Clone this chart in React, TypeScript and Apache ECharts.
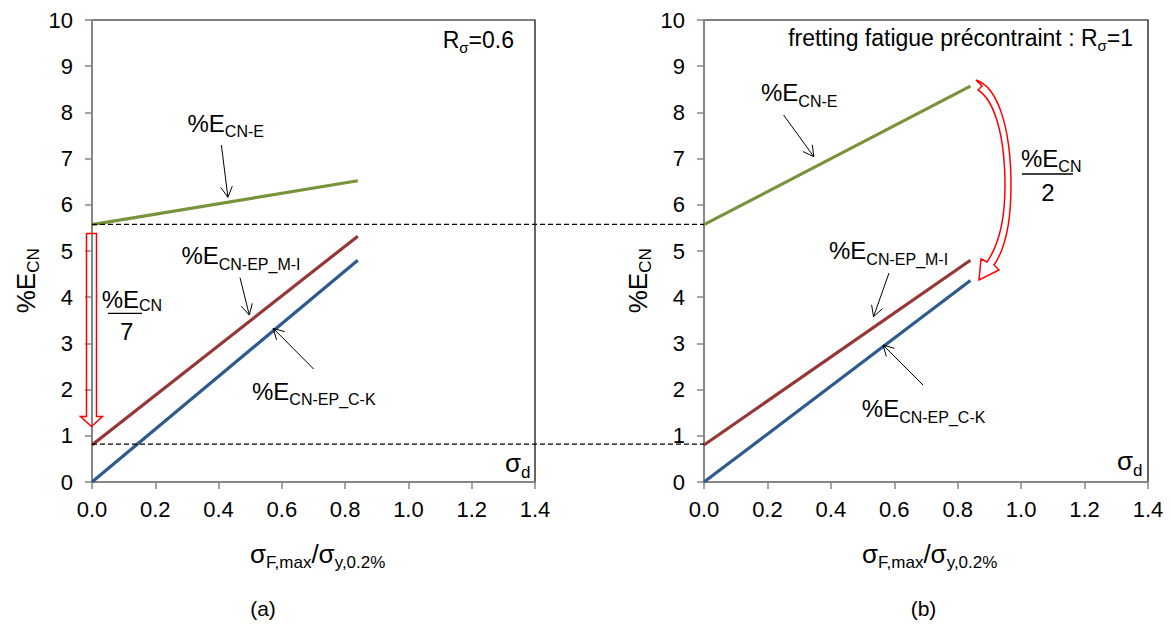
import React, { useEffect, useRef } from "react";
import * as echarts from "echarts";

const FONT = "'Liberation Sans', Arial, Helvetica, sans-serif";

// abscissa of line end points (sigma_F,max / sigma_y,0.2%)
const xEnds = [0, 0.84];
// panel (a) R_sigma = 0.6
const aE = [5.57, 6.52];
const aMI = [0.8, 5.32];
const aCK = [0, 4.8];
// panel (b) fretting fatigue précontraint R_sigma = 1
const bE = [5.57, 8.57];
const bMI = [0.8, 4.8];
const bCK = [0, 4.36];
// dashed reference levels crossing both panels
const refLevels = [5.575, 0.82];
// vertical red hollow arrow on panel (a): from / to (y values)
const dropArrow = [5.38, 1.2];

const GREEN = "#77933C";
const RED = "#953735";
const BLUE = "#2E5B8E";

echarts.graphic.registerShape(
  "curvedArrow",
  echarts.graphic.extendPath(
    "M 976 80 C 998 87 1011 128 1011 186 C 1011 228 1003 252 994 265 L 999 270 L 979 280 L 981 259 L 987 262 C 996 249 1005 226 1005 186 C 1005 134 994 100 978 90 L 982 86 Z",
    {}
  )
);

let measureCtx: CanvasRenderingContext2D | null = null;
function tw(t: string, s: number) {
  if (!measureCtx) measureCtx = document.createElement("canvas").getContext("2d");
  measureCtx!.font = `${s}px ${FONT}`;
  return measureCtx!.measureText(t).width;
}

type Part = [string, number, number];
function rich(x: number, baseline: number, parts: Part[], extra: any = {}) {
  const children: any[] = [];
  let cx = 0;
  for (const [t, s, dy] of parts) {
    children.push({
      type: "text",
      x: cx,
      y: dy - 0.3465 * s,
      style: { text: t, fontSize: s, fontFamily: FONT, fill: "#000", textAlign: "left", textVerticalAlign: "middle" },
    });
    cx += tw(t, s);
  }
  let gx = x;
  if (extra.alignRight) gx = x - cx;
  const { alignRight, ...rest } = extra;
  return { type: "group", x: gx, y: baseline, children, ...rest };
}

function arrow(x1: number, y1: number, x2: number, y2: number) {
  const ang = Math.atan2(y2 - y1, x2 - x1);
  const L = 12, a = 0.5;
  const p1 = [x2 - L * Math.cos(ang - a), y2 - L * Math.sin(ang - a)];
  const p2 = [x2 - L * Math.cos(ang + a), y2 - L * Math.sin(ang + a)];
  return [
    { type: "line", shape: { x1, y1, x2, y2 }, style: { stroke: "#000", lineWidth: 1 }, z: 10 },
    { type: "polyline", shape: { points: [p1, [x2, y2], p2] }, style: { stroke: "#000", lineWidth: 1, fill: null }, z: 10 },
  ];
}

function plainText(x: number, y: number, t: string, s: number, align = "center") {
  return {
    type: "text", x, y,
    style: { text: t, fontSize: s, fontFamily: FONT, fill: "#000", textAlign: align, textVerticalAlign: "middle" },
  };
}

export default function App() {
  const ref = useRef<HTMLDivElement>(null);
  useEffect(() => {
    if (!ref.current) return;
    const chart = echarts.init(ref.current, undefined, { renderer: "svg" });
    const axisCommon = {
      axisLine: { show: true, onZero: false, lineStyle: { color: "#868686", width: 2 } },
      axisTick: { show: true, length: 7, lineStyle: { color: "#868686", width: 1.5 } },
      splitLine: { show: false },
    };
    const xAx = (gi: number) => ({
      type: "value", gridIndex: gi, min: 0, max: 1.4, interval: 0.2, ...axisCommon,
      axisLabel: {
        margin: 16, fontSize: 22, fontFamily: FONT, color: "#000",
        formatter: (v: number) => v.toFixed(1), showMinLabel: true, showMaxLabel: true, hideOverlap: false,
      },
    });
    const yAx = (gi: number) => ({
      type: "value", gridIndex: gi, min: 0, max: 10, interval: 1, ...axisCommon,
      axisLabel: {
        margin: 19, fontSize: 22, fontFamily: FONT, color: "#000",
        showMinLabel: true, showMaxLabel: true, hideOverlap: false,
      },
    });
    const mk = (data: number[], color: string, gi: number) => ({
      type: "line", xAxisIndex: gi, yAxisIndex: gi,
      data: xEnds.map((x, i) => [x, data[i]]),
      showSymbol: false, symbol: "none", silent: true,
      lineStyle: { color, width: 3.2 }, z: 3,
    });
    chart.setOption({
      animation: false,
      backgroundColor: "#fff",
      grid: [
        { left: 92, top: 20, width: 443, height: 462, show: true, borderColor: "#000", borderWidth: 1.2 },
        { left: 704, top: 20, width: 444, height: 462, show: true, borderColor: "#000", borderWidth: 1.2 },
      ],
      xAxis: [xAx(0), xAx(1)],
      yAxis: [yAx(0), yAx(1)],
      series: [
        mk(aE, GREEN, 0), mk(aMI, RED, 0), mk(aCK, BLUE, 0),
        mk(bE, GREEN, 1), mk(bMI, RED, 1), mk(bCK, BLUE, 1),
      ],
    });

    const px = (gi: number, x: number, y: number) => chart.convertToPixel({ gridIndex: gi } as any, [x, y]) as number[];
    const g: any[] = [];
    // dashed reference lines
    for (const lv of refLevels) {
      const a = px(0, 0, lv), b = px(1, 0, lv);
      g.push({
        type: "line", shape: { x1: a[0], y1: a[1], x2: b[0], y2: b[1] },
        style: { stroke: "#000", lineWidth: 1.2, lineDash: [5, 3] }, z: 5,
      });
    }
    // red hollow drop arrow on panel (a)
    {
      const top = px(0, 0, dropArrow[0]);
      const tip = px(0, 0, dropArrow[1]);
      const cx = top[0] - 0.5;
      const hb = tip[1] - 10;
      g.push({
        type: "polygon",
        shape: {
          points: [
            [cx - 5, top[1]], [cx + 5, top[1]], [cx + 5, hb], [cx + 11, hb],
            [cx, tip[1]], [cx - 11, hb], [cx - 5, hb],
          ],
        },
        style: { stroke: "#FF0000", lineWidth: 1.5, fill: null }, z: 8,
      });
    }
    // red curved hollow arrow on panel (b)
    g.push({ type: "curvedArrow", x: 0, y: 0, style: { stroke: "#FF0000", lineWidth: 1.5, fill: null }, z: 8 });

    // annotations panel (a)
    g.push(rich(187.5, 131.7, [["%E", 24, 0], ["CN-E", 16, 5.6]]));
    g.push(...arrow(221.4, 145, 227.9, 197.3));
    g.push(rich(181.4, 264, [["%E", 24, 0], ["CN-EP_M-I", 16, 6]]));
    g.push(...arrow(240, 277.7, 249.3, 315));
    g.push(rich(252, 400, [["%E", 24, 0], ["CN-EP_C-K", 16, 5]]));
    g.push(...arrow(313.6, 369, 273.2, 328.3));
    g.push(rich(101.7, 308.3, [["%E", 24, 0], ["CN", 16, 3]]));
    g.push({ type: "line", shape: { x1: 108, y1: 313.3, x2: 142, y2: 313.3 }, style: { stroke: "#000", lineWidth: 1.3 } });
    g.push(plainText(126.7, 340 - 0.3465 * 24, "7", 24));
    g.push(rich(514, 47.7, [["R", 23, 0], ["σ", 15, 5], ["=0.6", 23, 0]], { alignRight: true }));
    g.push(rich(505, 471.7, [["σ", 26, 0], ["d", 17, 6.6]]));

    // annotations panel (b)
    g.push(rich(761, 100.7, [["%E", 24, 0], ["CN-E", 16, 6]]));
    g.push(...arrow(783.6, 115, 813.8, 156.7));
    g.push(rich(829, 259.3, [["%E", 24, 0], ["CN-EP_M-I", 16, 5.7]]));
    g.push(...arrow(889, 273, 873.5, 316.7));
    g.push(rich(861.8, 416.7, [["%E", 24, 0], ["CN-EP_C-K", 16, 6]]));
    g.push(...arrow(923, 385, 883, 345));
    g.push(rich(1021, 166.7, [["%E", 24, 0], ["CN", 16, 5]]));
    g.push({ type: "line", shape: { x1: 1022, y1: 174, x2: 1073, y2: 174 }, style: { stroke: "#000", lineWidth: 1.3 } });
    g.push(plainText(1048, 200.7 - 0.3465 * 24, "2", 24));
    g.push(rich(1133, 45.7, [["fretting fatigue précontraint : R", 23, 0], ["σ", 15, 5], ["=1", 23, 0]], { alignRight: true }));
    g.push(rich(1117, 470, [["σ", 26, 0], ["d", 17, 6.6]]));

    // axis titles
    g.push(rich(35, 313.3, [["%E", 26, 0], ["CN", 17, 4]], { rotation: Math.PI / 2 }));
    g.push(rich(647, 313.3, [["%E", 26, 0], ["CN", 17, 4]], { rotation: Math.PI / 2 }));
    const xt: Part[] = [["σ", 26, 0], ["F,max", 17, 5], ["/", 26, 0], ["σ", 26, 0], ["y,0.2%", 17, 5]];
    g.push(rich(250, 563.3, xt));
    g.push(rich(862, 563.3, xt));
    g.push(plainText(263, 608, "(a)", 21));
    g.push(plainText(923.5, 608, "(b)", 21));

    chart.setOption({ graphic: g });
    return () => chart.dispose();
  }, []);
  return <div ref={ref} style={{ position: "absolute", left: 0, top: 0, width: 1171, height: 624 }} />;
}
